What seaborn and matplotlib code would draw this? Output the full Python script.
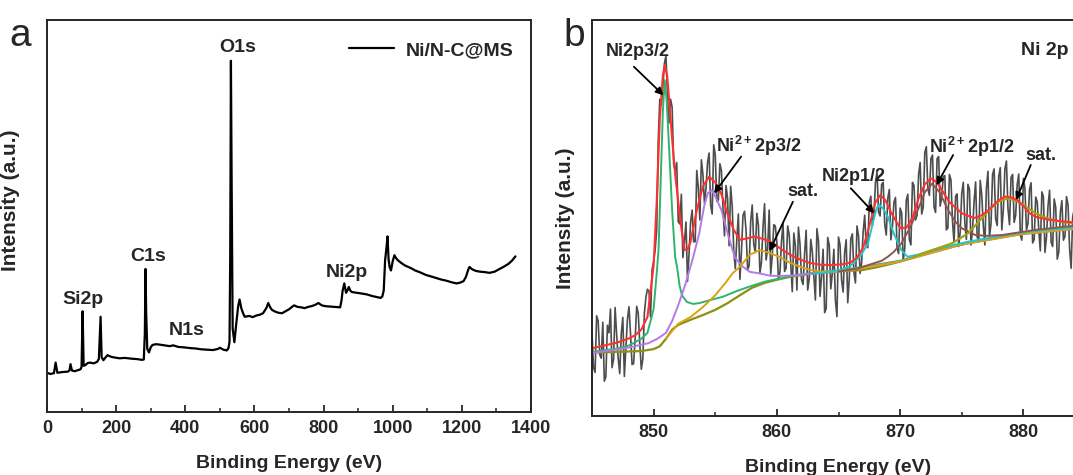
import matplotlib
matplotlib.use('Agg')
import matplotlib.pyplot as plt
import seaborn as sns
import pandas as pd

sns.set_style('ticks')
plt.rcParams['font.family'] = ['Liberation Sans', 'DejaVu Sans']
plt.rcParams['font.weight'] = 'bold'
plt.rcParams['mathtext.fontset'] = 'custom'
plt.rcParams['mathtext.bf'] = 'Liberation Sans:bold'
plt.rcParams['mathtext.rm'] = 'Liberation Sans:bold'

# ---- panel a: survey spectrum (intensity in % of the frame height)
survey_x = [0, 10, 20, 25, 30, 45, 60, 65, 68, 72, 80, 90, 97, 100, 103, 106, 110, 118, 125, 135,
            145, 150, 155, 158, 163, 170, 175, 185, 195, 210, 225, 245, 260, 275, 280, 283, 285, 287, 290, 295,
            300, 305, 315, 325, 340, 355, 365, 380, 395, 415, 430, 445, 465, 480, 495, 500, 510, 520, 525, 528,
            530, 532, 534, 537, 542, 548, 553, 557, 562, 567, 572, 585, 595, 605, 615, 625, 635, 640, 645, 650,
            660, 670, 680, 690, 700, 710, 715, 725, 735, 745, 755, 765, 775, 785, 795, 805, 820, 835, 848, 852,
            855, 860, 865, 870, 873, 877, 882, 890, 900, 912, 925, 940, 955, 965, 970, 974, 978, 982, 985, 988,
            991, 995, 1000, 1005, 1010, 1015, 1025, 1035, 1045, 1055, 1065, 1080, 1095, 1110, 1125, 1140, 1155, 1170, 1185, 1195,
            1205, 1212, 1218, 1222, 1230, 1240, 1252, 1265, 1280, 1295, 1305, 1320, 1335, 1345, 1355]
survey_y = [10.0, 9.7, 9.9, 12.6, 10.0, 10.2, 10.3, 10.6, 12.2, 10.6, 10.4, 10.7, 10.9, 11.5, 25.7, 11.8, 11.9, 12.5, 12.6, 12.4,
            12.8, 13.5, 24.3, 14.0, 13.2, 14.0, 14.5, 14.1, 13.9, 13.7, 13.8, 13.6, 13.5, 13.3, 13.4, 20.0, 36.5, 25.0, 16.1, 15.2,
            16.5, 17.1, 17.3, 17.2, 17.0, 16.8, 17.0, 16.6, 16.5, 16.3, 16.2, 16.0, 15.9, 15.8, 16.1, 16.4, 15.9, 15.7, 16.3, 18.0,
            40.0, 89.6, 60.0, 21.3, 17.8, 23.0, 27.0, 28.7, 26.5, 25.2, 24.3, 24.5, 24.2, 24.6, 24.8, 25.2, 26.6, 27.8, 26.8, 26.1,
            25.6, 25.3, 25.2, 25.7, 26.2, 26.9, 27.2, 26.8, 26.7, 26.5, 26.8, 27.0, 27.3, 27.8, 27.2, 27.0, 26.9, 26.8, 26.7, 28.5,
            30.9, 32.8, 30.4, 31.2, 31.9, 31.0, 30.6, 30.5, 30.4, 30.2, 30.0, 29.6, 29.3, 29.1, 29.5, 31.0, 38.7, 42.0, 44.8, 39.0,
            37.0, 36.1, 38.5, 40.0, 39.2, 38.7, 38.0, 37.4, 37.0, 36.6, 36.1, 35.6, 35.0, 34.6, 34.2, 33.8, 33.5, 33.1, 32.8, 33.0,
            33.4, 34.5, 36.2, 37.0, 36.4, 36.0, 35.8, 35.7, 35.5, 35.8, 36.3, 37.0, 37.8, 38.6, 39.7]

survey_labels = ['O1s', 'Si2p', 'C1s', 'N1s', 'Ni2p']
survey_label_x = [552, 103, 293, 403, 867]
survey_label_y = [93.0, 28.6, 39.6, 20.9, 35.5]

# ---- panel b: Ni 2p high-resolution spectrum (raw counts every 0.125 eV)
raw_start, raw_step = 845.0, 0.125
raw_y = [21, 12.2, 11, 25.3, 24, 15.5, 14.6, 23.7, 8.8, 9.9, 22.9, 21, 27, 12.2, 14.3, 27.4, 20.5, 14.6, 10.7, 20.8,
         24.9, 10, 17.2, 24.4, 27.6, 20.8, 13, 13.2, 19.4, 27.7, 26, 18.4, 11.8, 14.4, 26, 30, 32, 31.5, 25, 37,
         39, 42, 47, 69.5, 80, 78.5, 83, 89, 91, 81, 74, 80, 78, 63.5, 62, 64, 49, 48.5, 56, 40,
         44, 49, 34, 41, 49, 52, 44, 44, 62, 57.7, 49.5, 64.7, 61, 53.7, 57.5, 64, 66.4, 53.2, 51, 68.5,
         66, 54.2, 54.5, 63.7, 62, 52.7, 45.5, 58.2, 55, 43, 58, 53, 42, 37.2, 44.5, 51, 34.5, 41.5, 50.6, 51.7,
         46.8, 36.9, 38, 49.1, 53.3, 43.3, 41.3, 51.2, 48.2, 36, 38.9, 47.7, 53.6, 39.4, 42.2, 52, 35.8, 40.5, 48.3, 48,
         43.8, 34.5, 36.3, 44, 48.8, 36.5, 37.3, 48, 45.8, 38.6, 31.4, 46.2, 43, 31.8, 47.7, 43.5, 34.4, 33.2, 41.1, 46.9,
         31.8, 34.7, 44.6, 41.5, 35.4, 29.3, 47.3, 44.2, 30.2, 35.1, 42.1, 26.1, 27.1, 45.1, 43.1, 32.1, 36.1, 42.1, 29.1, 25.1,
         45.2, 43.2, 34.3, 31.3, 41.4, 44.5, 28.6, 34.7, 44.8, 46, 36.3, 33.6, 48, 45.5, 36, 38.7, 46.5, 50.7, 43, 42.5,
         54, 55.5, 48, 50.5, 59, 61.7, 51.5, 50.5, 58.5, 59, 48.5, 45.7, 55, 57.2, 44.5, 47.7, 54, 55.2, 42.5, 41,
         52.5, 51.3, 39.2, 42.3, 54.5, 56, 44.5, 43.2, 59, 58.2, 49.5, 50.7, 61, 64, 51, 52.7, 66.5, 68, 57.5, 55.7,
         65, 65.9, 52.8, 51.4, 65, 65.5, 53, 55.2, 60.5, 60.7, 47, 47.5, 61, 59.6, 49.2, 43.8, 55.5, 56.1, 42.8, 46.5,
         56.2, 59, 48.8, 44.6, 58.5, 57.3, 43.2, 47.1, 54, 59.1, 45.2, 44.3, 59.5, 55.7, 48, 43.2, 57.5, 61.8, 45.2, 48.6,
         61, 62.4, 49.8, 48.1, 60.5, 62.7, 47, 52.2, 62.4, 64.4, 52.4, 48.3, 60.2, 61, 48.9, 50.7, 58.5, 61.1, 45.8, 44.4,
         60, 57.5, 47, 48.6, 57.2, 58.9, 43.7, 44.5, 55.3, 54.1, 46.9, 41.7, 56.6, 55.4, 41.3, 45.2, 53.1, 57, 43.9, 42.8,
         54.8, 52.7, 39.6, 41.5, 51.5, 54.4, 44.4, 45.4, 55.4, 53.3, 42.3, 37.3, 50.3, 52.2, 38.2, 43.2, 53.2, 54.1, 44.1, 44.1,
         51.1]
raw_x = [raw_start + raw_step * i for i in range(len(raw_y))]

env_x = [845, 846, 847, 848, 848.5, 849, 849.5, 850, 850.25, 850.5, 850.75, 850.9, 851.1, 851.3, 851.5, 851.75, 852, 852.25, 852.5, 852.75,
         853, 853.5, 854, 854.5, 855, 855.5, 856, 856.5, 857, 857.5, 858.2, 859, 859.7, 860.5, 861.5, 862.5, 863.5, 864.5, 865.5, 866,
         866.5, 867, 867.5, 868, 868.4, 868.8, 869.3, 870, 870.5, 871, 871.5, 872, 872.5, 873, 873.5, 874, 875, 876, 876.5, 877,
         877.5, 878, 878.5, 879, 879.5, 880, 880.5, 881, 882, 883, 884, 885]
env_y = [17.1, 17.8, 18.5, 19.6, 20.4, 21.8, 25, 38, 54, 75, 86, 88.6, 86, 78, 70, 61, 54, 47.5, 42, 42,
         44, 52, 58, 60.4, 59, 56, 51, 47, 44.5, 44.8, 45.3, 44.6, 43.6, 41.8, 40, 38.8, 38.2, 38.1, 38.4, 38.8,
         40, 42.5, 48, 54, 55.8, 54.5, 51.2, 47.5, 47.5, 50, 55, 58.5, 60, 59, 56.5, 54, 51.2, 50, 50.5, 51.5,
         53, 54.5, 55.4, 55.2, 54.5, 53, 51.2, 50.3, 49.6, 49.2, 48.9, 48.7]

bg_x = [845, 849, 850, 850.5, 851, 851.5, 852, 853, 854, 855, 856, 857, 858, 859, 860, 861, 862, 863, 864, 865,
        866, 867, 868, 869, 870, 871, 872, 873, 874, 875, 876, 877, 878, 879, 880, 881, 882, 883, 884, 885]
bg_y = [16.0, 16.4, 16.9, 17.6, 19.5, 21.8, 23.0, 24.3, 25.5, 26.8, 28.5, 30.5, 32.4, 33.6, 34.4, 35.1, 35.6, 36.0, 36.3, 36.5,
        36.7, 36.9, 37.5, 38.2, 39.0, 40.0, 41.0, 41.9, 42.7, 43.3, 44.0, 44.6, 45.2, 45.6, 46.0, 46.4, 46.8, 47.1, 47.3, 47.5]

ni_x = [845, 847, 848, 849, 849.5, 850, 850.25, 850.4, 850.6, 850.75, 850.9, 851.05, 851.25, 851.5, 851.75, 851.9, 852.1, 852.3, 852.7, 853.2,
        853.7, 854.5, 855.6, 856.7, 857.8, 859, 860, 862, 865, 870, 875, 880, 885]
ni_y = [16.2, 17, 17.8, 19.5, 21, 27, 36, 42, 62, 77, 84.8, 80, 68, 52, 40, 37.7, 33, 30.5, 28.8, 28.3,
        28.5, 29.2, 30.1, 31.5, 32.7, 33.9, 34.6, 35.8, 36.7, 39.2, 43.4, 46.1, 47.6]

ni2_x = [845, 847, 848, 849, 849.6, 850.3, 851, 851.5, 852, 852.6, 853.2, 853.7, 854.1, 854.4, 854.7, 855, 855.5, 856.1, 856.6, 857.2,
         857.8, 858.6, 859.5, 860.5, 861.5, 862.4, 863.5, 865, 870, 875, 880, 885]
ni2_y = [15.9, 16.8, 17.3, 18, 18.4, 19.5, 21, 24, 28, 33.5, 40, 46.1, 53, 56.3, 57, 55.5, 52, 45, 40, 37.8,
         36.4, 36, 35.4, 35.4, 35.5, 35.8, 36.2, 36.5, 39, 43.3, 46, 47.5]

sat1_x = [851, 852, 853, 854, 855, 855.8, 856.4, 857, 857.8, 858.6, 859.3, 860.2, 861, 861.9, 862.7, 863.5, 864.5, 866, 870, 875, 880, 885]
sat1_y = [19.6, 23.3, 25, 27.5, 30.5, 33.5, 36, 37.7, 40.7, 41.9, 41.3, 40.2, 38.8, 37.7, 36.9, 36.5, 36.5, 36.8, 39, 43.3, 46, 47.5]

p12_x = [863, 864, 865.2, 866, 866.8, 867.4, 867.8, 868.1, 868.3, 868.6, 869, 869.5, 870.1, 870.6, 871.5, 872.8, 875.5, 878.3, 881, 884.2, 885]
p12_y = [36.0, 36.3, 36.9, 38, 40.5, 43.6, 49, 52.5, 53.3, 52.5, 50.3, 46, 41.9, 40.2, 40.8, 42.1, 44, 45.6, 46.8, 47.6, 47.8]

ni2_12_x = [865, 866.5, 867.5, 868.5, 869, 869.5, 870.1, 870.8, 871.5, 872, 872.6, 873.2, 873.9, 874.5, 875, 876.1, 877, 878.3, 879.5, 881, 882.5, 885]
ni2_12_y = [36.5, 37.2, 38.2, 39.2, 40.2, 41.5, 43.6, 47.5, 52.5, 56.5, 58.7, 56.5, 52, 49, 47.4, 45.7, 45.5, 45.7, 46.3, 47, 47.5, 48.3]

sat2_x = [871, 872, 873, 874.2, 875.5, 876.3, 877.2, 878, 878.8, 879.6, 880.3, 881, 881.7, 882.4, 883.3, 884.2, 885]
sat2_y = [40, 41.2, 42.3, 43.6, 46.1, 48.8, 52, 54.2, 55, 54.1, 52.6, 51.2, 50.2, 49.5, 48.9, 48.6, 48.4]

peak_labels = ['Ni2p3/2', r'Ni$^{\mathbf{2+}}$2p3/2', 'sat.', 'Ni2p1/2', r'Ni$^{\mathbf{2+}}$2p1/2', 'sat.']
peak_label_x = [848.7, 858.5, 862.1, 866.2, 875.8, 881.4]
peak_label_y = [92.0, 68.2, 56.8, 60.5, 67.9, 65.7]
arrow_tail_x = [848.4, 857.1, 861.3, 866.0, 874.3, 880.6]
arrow_tail_y = [88.2, 65.5, 54.1, 57.5, 65.9, 63.4]
arrow_head_x = [850.8, 854.9, 859.4, 867.9, 872.95, 879.4]
arrow_head_y = [81.0, 56.2, 41.6, 51.2, 58.3, 54.5]

fig = plt.figure(figsize=(10.73, 4.75), dpi=100)
ax1 = fig.add_axes([47 / 1073, 1 - 412 / 475, 484 / 1073, 392 / 475])
ax2 = fig.add_axes([592 / 1073, 1 - 416 / 475, 493 / 1073, 396 / 475])

# panel a
df_a = pd.DataFrame({'x': survey_x, 'y': survey_y})
sns.lineplot(data=df_a, x='x', y='y', ax=ax1, color='black', lw=1.6,
             estimator=None, sort=False, label='Ni/N-C@MS')
for t, x, y in zip(survey_labels, survey_label_x, survey_label_y):
    ax1.text(x, y, t, ha='center', va='center', fontsize=14, fontweight='bold')
ax1.set_xlim(0, 1400)
ax1.set_ylim(0, 100)
ax1.set_xticks(range(0, 1401, 200))
ax1.set_xticks(range(100, 1400, 200), minor=True)
ax1.legend(loc='upper right', bbox_to_anchor=(1.0, 0.99), frameon=False,
           handlelength=2.3, handletextpad=0.6, prop={'size': 14, 'weight': 'bold'})

# panel b
lines_b = [
    (bg_x, bg_y, '#8e8e12', 1.6),
    (ni_x, ni_y, '#2fb36f', 1.4),
    (ni2_x, ni2_y, '#b27be6', 1.4),
    (sat1_x, sat1_y, '#d6a313', 1.4),
    (p12_x, p12_y, '#22c6cc', 1.4),
    (ni2_12_x, ni2_12_y, '#8c5550', 1.4),
    (sat2_x, sat2_y, '#a3a312', 1.6),
]
sns.lineplot(x=raw_x, y=raw_y, ax=ax2, color='#4d4d4d', lw=1.2, estimator=None, sort=False)
for xs, ys, c, w in lines_b:
    sns.lineplot(x=xs, y=ys, ax=ax2, color=c, lw=w, estimator=None, sort=False)
sns.lineplot(x=env_x, y=env_y, ax=ax2, color='#ff3030', lw=1.5, estimator=None, sort=False)

for t, x, y in zip(peak_labels, peak_label_x, peak_label_y):
    ax2.text(x, y, t, ha='center', va='center', fontsize=13, fontweight='bold')
for tx, ty, hx, hy in zip(arrow_tail_x, arrow_tail_y, arrow_head_x, arrow_head_y):
    ax2.annotate('', xy=(hx, hy), xytext=(tx, ty),
                 arrowprops=dict(arrowstyle='-|>', color='black', lw=1.3, mutation_scale=11,
                                 shrinkA=0, shrinkB=0))
ax2.text(881.7, 92.3, 'Ni 2p', ha='center', va='center', fontsize=14, fontweight='bold')
ax2.set_xlim(845, 885)
ax2.set_ylim(0, 100)
ax2.set_xticks([850, 860, 870, 880])
ax2.set_xticks([855, 865, 875], minor=True)

for ax in (ax1, ax2):
    ax.set_yticks([])
    ax.set_xlabel('Binding Energy (eV)', fontsize=14, fontweight='bold', labelpad=13)
    ax.set_ylabel('Intensity (a.u.)', fontsize=15, fontweight='bold', labelpad=12)
    ax.tick_params(axis='x', which='major', direction='in', length=5, width=1.3, labelsize=13, pad=6)
    ax.tick_params(axis='x', which='minor', direction='in', length=3, width=1.1)
    for lab in ax.get_xticklabels():
        lab.set_fontweight('bold')
    for s in ax.spines.values():
        s.set_linewidth(1.4)
        s.set_visible(True)
ax1.yaxis.set_label_coords(-0.056, 0.54)

fig.text(9 / 1073, 1 - 46 / 475, 'a', fontsize=28, fontweight='normal', ha='left', va='baseline')
fig.text(563 / 1073, 1 - 46 / 475, 'b', fontsize=28, fontweight='normal', ha='left', va='baseline')

fig.savefig('out.png', dpi=100)
